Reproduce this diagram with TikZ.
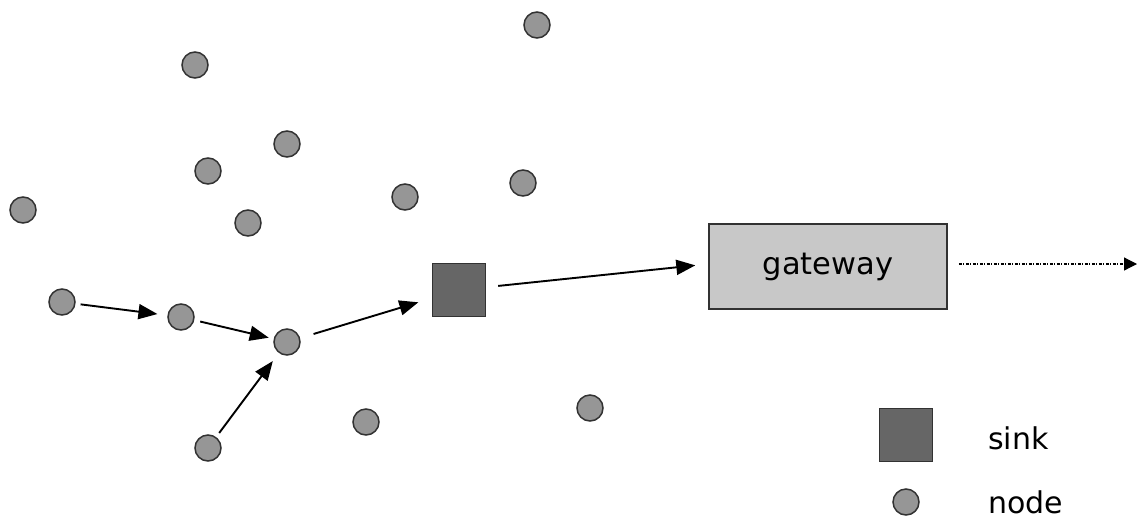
\documentclass[tikz,border=0pt]{standalone}
\usepackage{fontspec}
\setmainfont{DejaVu Sans}
\usetikzlibrary{arrows.meta}
\definecolor{nodegray}{RGB}{150,150,150}
\definecolor{sinkgray}{RGB}{102,102,102}
\definecolor{gwgray}{RGB}{200,200,200}
\definecolor{edgec}{RGB}{50,50,50}
\begin{document}
\begin{tikzpicture}[x=1pt,y=-1pt,
  sensor/.style={circle,draw=edgec,fill=nodegray,line width=1.5pt,minimum size=26pt,inner sep=0pt},
  sinkbox/.style={rectangle,draw=edgec,fill=sinkgray,line width=1.5pt,minimum size=53pt,inner sep=0pt},
  gwbox/.style={rectangle,draw=edgec,fill=gwgray,line width=1.5pt,minimum width=238pt,minimum height=85pt,inner sep=0pt,font=\fontsize{30.5}{34}\selectfont},
  lbl/.style={anchor=west,inner sep=0pt,font=\fontsize{30}{34}\selectfont},
  link/.style={line width=1.9pt,-{Triangle[length=19pt,width=15pt]}},
  dotlink/.style={line width=1.2pt,dash pattern=on 3pt off 1.5pt on 1pt off 1.5pt,-{Triangle[length=13pt,width=13pt]}}]
\useasboundingbox (0,0) rectangle (1137,517);
\node[sensor] (n1) at (537,25) {};
\node[sensor] (n2) at (195,65) {};
\node[sensor] (n3) at (287,144) {};
\node[sensor] (n4) at (208,171) {};
\node[sensor] (n5) at (23,210) {};
\node[sensor] (n6) at (248,223) {};
\node[sensor] (n7) at (405,197) {};
\node[sensor] (n8) at (523,183) {};
\node[sensor] (a) at (62,302) {};
\node[sensor] (b) at (181,317) {};
\node[sensor] (c) at (287,342) {};
\node[sensor] (d) at (208,448) {};
\node[sensor] (n9) at (366,422) {};
\node[sensor] (n10) at (590,408) {};
\node[sinkbox] (sink) at (459,290) {};
\node[gwbox] (gw) at (828,266.5) {gateway};
\coordinate (out) at (1137,264);
\draw[link,shorten <=5pt,shorten >=10pt] (a) -- (b);
\draw[link,shorten <=6pt,shorten >=5pt] (b) -- (c);
\draw[link,shorten <=5pt,shorten >=10pt] (d) -- (c);
\draw[link,shorten <=14pt,shorten >=14pt] (c) -- (sink);
\draw[link,shorten <=12pt,shorten >=13pt] (sink) -- (gw.west |- 0,264);
\draw[dotlink,shorten <=11pt] (gw.east |- out) -- (out);
% legend
\node[sinkbox] (lsink) at (906,435) {};
\node[sensor] (lnode) at (906,502) {};
\node[lbl] (tsink) at (988,438) {sink};
\node[lbl] (tnode) at (988,502) {node};
\end{tikzpicture}
\end{document}
